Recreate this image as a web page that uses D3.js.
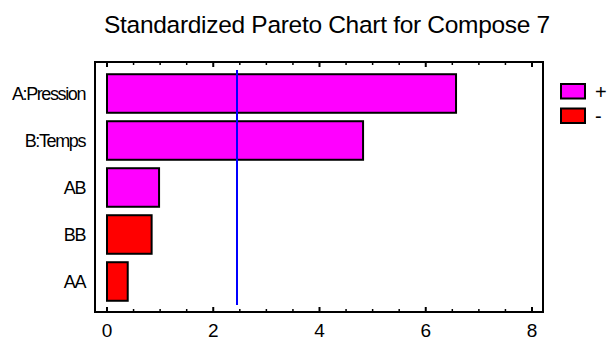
<!DOCTYPE html>
<html>
<head>
<meta charset="utf-8">
<script src="https://cdn.jsdelivr.net/npm/d3@7"></script>
<style>
  body { margin: 0; background: #fff; }
  text { font-family: "Liberation Sans", Arial, sans-serif; fill: #000; }
</style>
</head>
<body>
<div id="container"></div>
<script>
/* DATA */
const effects = ["A:Pression", "B:Temps", "AB", "BB", "AA"];
const values = [6.57, 4.82, 0.98, 0.84, 0.39];
const signs = ["+", "+", "+", "-", "-"];
const critical = 2.447;
const xTicks = [0, 2, 4, 6, 8];

const width = 609, height = 341;
const frame = {left: 95, right: 543, top: 62, bottom: 312};

const svg = d3.select("#container")
  .append("svg")
  .attr("width", width)
  .attr("height", height);

/* SCALES */
const xScale = d3.scaleLinear()
  .domain([0, 8])
  .range([107, 532]);

const yScale = d3.scaleBand()
  .domain(effects)
  .range([70, 305])
  .paddingInner(0.18)
  .paddingOuter(0.09);

const colorScale = d3.scaleOrdinal()
  .domain(["+", "-"])
  .range(["#ff00ff", "#ff0000"]);

/* TITLE */
svg.append("text")
  .attr("x", 327)
  .attr("y", 33)
  .attr("text-anchor", "middle")
  .style("font-size", "24.5px")
  .style("letter-spacing", "-0.3px")
  .text("Standardized Pareto Chart for Compose 7");

/* FRAME */
svg.append("rect")
  .attr("x", frame.left)
  .attr("y", frame.top)
  .attr("width", frame.right - frame.left)
  .attr("height", frame.bottom - frame.top)
  .attr("fill", "none")
  .attr("stroke", "#000")
  .attr("stroke-width", 2);

// minor + major ticks top and bottom, pointing inward
const minor = d3.range(0, 8.01, 0.5);
const tickG = svg.append("g");
minor.forEach(v => {
  const major = v % 2 === 0;
  const len = major ? 5 : 3;
  tickG.append("line")
    .attr("x1", xScale(v)).attr("x2", xScale(v))
    .attr("y1", frame.bottom).attr("y2", frame.bottom - len)
    .attr("stroke", "#000").attr("stroke-width", major ? 2 : 1.5);
  tickG.append("line")
    .attr("x1", xScale(v)).attr("x2", xScale(v))
    .attr("y1", frame.top).attr("y2", frame.top + len)
    .attr("stroke", "#000").attr("stroke-width", major ? 2 : 1.5);
});

svg.append("g")
  .selectAll("text")
  .data(xTicks)
  .join("text")
  .attr("x", d => xScale(d))
  .attr("y", 337)
  .attr("text-anchor", "middle")
  .style("font-size", "19px")
  .text(d => d);

/* BARS */
svg.append("g")
  .selectAll("rect")
  .data(effects)
  .join("rect")
  .attr("x", xScale(0))
  .attr("y", d => yScale(d))
  .attr("width", (d, i) => xScale(values[i]) - xScale(0))
  .attr("height", yScale.bandwidth())
  .attr("fill", (d, i) => colorScale(signs[i]))
  .attr("stroke", "#000")
  .attr("stroke-width", 2);

// y labels
svg.append("g")
  .selectAll("text")
  .data(effects)
  .join("text")
  .attr("x", 85)
  .attr("y", d => yScale(d) + yScale.bandwidth() / 2)
  .attr("dy", "0.35em")
  .attr("text-anchor", "end")
  .style("font-size", "18px")
  .style("letter-spacing", "-1.4px")
  .text(d => d);

/* CRITICAL LINE */
svg.append("line")
  .attr("x1", xScale(critical)).attr("x2", xScale(critical))
  .attr("y1", yScale.range()[0]).attr("y2", yScale.range()[1])
  .attr("stroke", "#0000ff")
  .attr("stroke-width", 2);

/* LEGEND */
const legend = svg.append("g");
["+", "-"].forEach((s, i) => {
  legend.append("rect")
    .attr("x", 561)
    .attr("y", 84 + i * 24.5)
    .attr("width", 24)
    .attr("height", 14.5)
    .attr("fill", colorScale(s))
    .attr("stroke", "#000")
    .attr("stroke-width", 2);
  legend.append("text")
    .attr("x", 595)
    .attr("y", 91.5 + i * 24.5)
    .attr("dy", "0.35em")
    .style("font-size", "20px")
    .text(s);
});
</script>
</body>
</html>
